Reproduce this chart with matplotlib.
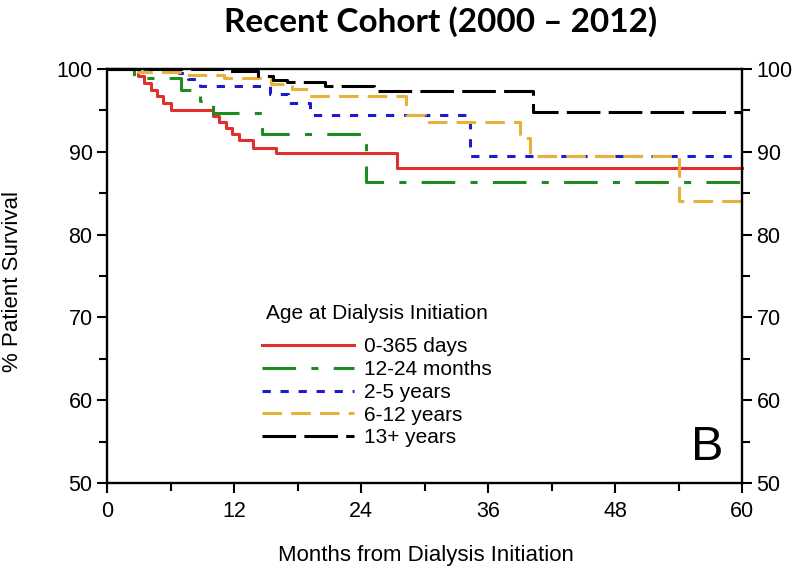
import numpy as np
import matplotlib
matplotlib.use("Agg")
import matplotlib.pyplot as plt

plt.rcParams['font.family'] = ['Liberation Sans', 'DejaVu Sans']

# datos (meses, % supervivencia)
red_t = [0, 2.9, 3.5, 4.1, 4.7, 5.3, 6.0, 10.0, 10.6, 11.2, 11.8, 12.5, 13.8, 16.0, 27.4]
red_s = [100, 99.1, 98.3, 97.5, 96.7, 95.9, 95.0, 94.3, 93.6, 92.9, 92.2, 91.4, 90.5, 89.9, 88.1]

green_t = [0, 2.5, 7.0, 8.8, 10.0, 14.6, 24.5]
green_s = [100, 98.9, 97.5, 96.1, 94.7, 92.1, 86.4]

blue_t = [0, 6.8, 7.6, 8.8, 15.4, 17.1, 19.2, 34.3]
blue_s = [100, 99.5, 98.8, 97.9, 97.0, 95.9, 94.4, 89.5]

orange_t = [0, 2.9, 7.5, 11.0, 15.5, 17.5, 19.0, 28.2, 30.0, 39.0, 40.0, 54.0]
orange_s = [100, 99.6, 99.3, 98.9, 98.2, 97.6, 96.7, 94.4, 93.6, 91.7, 89.5, 84.0]

black_t = [0, 11.0, 14.3, 15.7, 17.0, 20.6, 25.2, 40.2]
black_s = [100, 99.7, 99.2, 98.7, 98.4, 98.0, 97.3, 94.8]

etiquetas = ["0-365 days", "12-24 months", "2-5 years", "6-12 years", "13+ years"]
x_ticks = [0, 12, 24, 36, 48, 60]
y_ticks = [50, 60, 70, 80, 90, 100]
fin = 60

fig = plt.figure(figsize=(8, 5.74), dpi=100)
ax = fig.add_axes([0.134, 0.1585, 0.7935, 0.7213])

series = [
    (red_t, red_s, "#e0302e", "-"),
    (green_t, green_s, "#1e8c1e", (0, (11, 5, 2.3, 5))),
    (blue_t, blue_s, "#1c1cc8", (0, (2.7, 3.2))),
    (orange_t, orange_s, "#e8b23a", (0, (6.4, 3))),
    (black_t, black_s, "black", (0, (11, 2.7))),
]

for (t, s, color, ls), nombre in zip(series, etiquetas):
    ax.step(np.append(t, fin), np.append(s, s[-1]), where="post",
            color=color, linestyle=ls, linewidth=2.2, label=nombre, clip_on=False)

ax.set_xlim(0, 60)
ax.set_ylim(50, 100)
ax.set_xticks(x_ticks)
ax.set_xticks(np.arange(6, 60, 12), minor=True)
ax.set_yticks(y_ticks)
ax.set_yticks(np.arange(55, 100, 10), minor=True)

for lado in ax.spines.values():
    lado.set_linewidth(1.7)

ax.tick_params(which="both", direction="out", width=1.5, left=True, right=True,
               labelright=True, labelsize=15.5)
ax.tick_params(which="major", length=7)
ax.tick_params(which="minor", length=6)
ax.tick_params(axis="x", pad=6)

leg = ax.legend(title="Age at Dialysis Initiation", frameon=False, fontsize=15,
                title_fontsize=15, handlelength=4.4, handletextpad=0.5,
                labelspacing=0.18, borderpad=0, loc="upper left",
                bbox_to_anchor=(252 / 800, 1 - 294 / 574),
                bbox_transform=fig.transFigure)
leg._legend_box.align = "center"
leg._legend_box.sep = 10  # mas aire entre titulo y entradas

fig.text(0.551, 0.962, "Recent Cohort (2000 \u2013 2012)", ha="center", va="center",
         fontsize=24, fontweight="bold", family=["Lato", "DejaVu Sans"])
fig.text(0.533, 0.033, "Months from Dialysis Initiation", ha="center", va="center",
         fontsize=16)
fig.text(0.016, 0.352, "% Patient Survival", rotation=90, ha="center", va="bottom",
         fontsize=16)
fig.text(0.884, 0.221, "B", ha="center", va="center", fontsize=35)

plt.savefig("out.png", dpi=100)
plt.close()
